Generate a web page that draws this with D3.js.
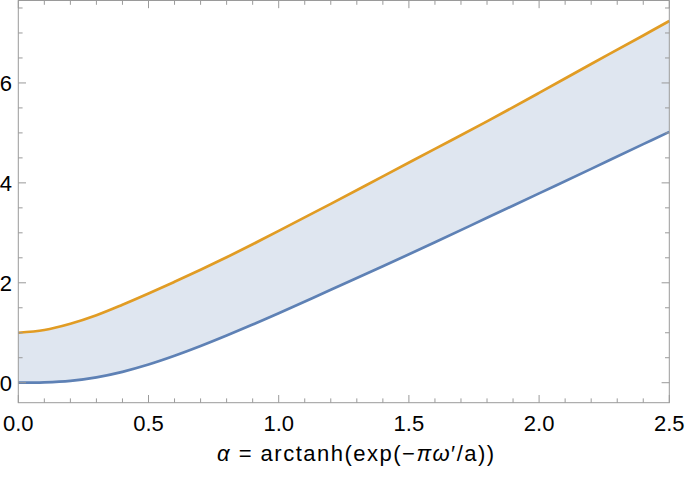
<!DOCTYPE html>
<html>
<head>
<meta charset="utf-8">
<script src="https://cdn.jsdelivr.net/npm/d3@7"></script>
<style>
  html, body { margin: 0; padding: 0; background: #fff; }
  svg { display: block; }
  text { font-family: "Liberation Sans", Arial, sans-serif; fill: #000; }
</style>
</head>
<body>
<svg id="chart" width="685" height="479"></svg>
<script>
// Data
const alphaValues = [0, 0.1, 0.2, 0.3, 0.4, 0.5, 0.6, 0.7, 0.8, 0.9, 1.0, 1.2, 1.4, 1.6, 1.8, 2.0, 2.2, 2.4, 2.5];
const lowerValues = [0, 0.008, 0.038, 0.108, 0.218, 0.363, 0.538, 0.733, 0.943, 1.163, 1.39, 1.86, 2.33, 2.81, 3.30, 3.79, 4.28, 4.775, 5.02];
const upperValues = [1.0, 1.055, 1.18, 1.35, 1.56, 1.785, 2.02, 2.26, 2.51, 2.77, 3.04, 3.58, 4.13, 4.68, 5.23, 5.80, 6.38, 6.95, 7.24];
const xTickLabels = ["0.0", "0.5", "1.0", "1.5", "2.0", "2.5"];
const yTickLabels = ["0", "2", "4", "6"];

(function () {
const svg = d3.select("#chart");
const pLeft = 18.3, pRight = 669.3, pTop = 0.5, pBottom = 402.7;

const x = d3.scaleLinear().domain([0, 2.5]).range([pLeft, pRight]);
const y = d3.scaleLinear().domain([-0.4, 7.65]).range([pBottom, pTop]);

const rows = alphaValues.map((a, i) => ({ a, lo: lowerValues[i], hi: upperValues[i] }));
const curve = d3.curveCatmullRom.alpha(0.5);

// fill between
svg.append("path")
  .datum(rows)
  .attr("fill", "#dfe6f0")
  .attr("d", d3.area().curve(curve)
    .x(d => x(d.a)).y0(d => y(d.lo)).y1(d => y(d.hi)));

const line = key => d3.line().curve(curve).x(d => x(d.a)).y(d => y(d[key]));

svg.append("path").datum(rows)
  .attr("fill", "none").attr("stroke", "#5e81b5").attr("stroke-width", 2.7)
  .attr("d", line("lo"));
svg.append("path").datum(rows)
  .attr("fill", "none").attr("stroke", "#e19c24").attr("stroke-width", 2.7)
  .attr("d", line("hi"));

// frame
const frameColor = "#9a9a9a";
svg.append("rect")
  .attr("x", pLeft).attr("y", pTop)
  .attr("width", pRight - pLeft).attr("height", pBottom - pTop)
  .attr("fill", "none").attr("stroke", frameColor).attr("stroke-width", 1);

// ticks
const xMajor = d3.range(0, 2.5001, 0.5);
const xMinor = d3.range(0, 2.5001, 0.1).filter(v => Math.abs(v / 0.5 - Math.round(v / 0.5)) > 1e-6);
const yMajor = d3.range(0, 7.65, 2);
const yMinor = d3.range(0, 7.65, 0.5).filter(v => Math.abs(v / 2 - Math.round(v / 2)) > 1e-6);

const tg = svg.append("g").attr("stroke", frameColor).attr("stroke-width", 1);
function xt(v, len) {
  const px = x(v);
  tg.append("line").attr("x1", px).attr("x2", px).attr("y1", pBottom).attr("y2", pBottom - len);
  tg.append("line").attr("x1", px).attr("x2", px).attr("y1", pTop).attr("y2", pTop + len);
}
function yt(v, len) {
  const py = y(v);
  tg.append("line").attr("x1", pLeft).attr("x2", pLeft + len).attr("y1", py).attr("y2", py);
  tg.append("line").attr("x1", pRight).attr("x2", pRight - len).attr("y1", py).attr("y2", py);
}
xMajor.forEach(v => xt(v, 7.7));
xMinor.forEach(v => xt(v, 4.3));
yMajor.forEach(v => yt(v, 7.7));
yMinor.forEach(v => yt(v, 4.3));

// tick labels
svg.append("g").selectAll("text").data(xMajor).join("text")
  .attr("x", d => x(d)).attr("y", 431)
  .attr("text-anchor", "middle").attr("font-size", 22)
  .text((d, i) => xTickLabels[i]);

svg.append("g").selectAll("text").data(yMajor).join("text")
  .attr("x", 12).attr("y", d => y(d) + 8)
  .attr("text-anchor", "end").attr("font-size", 22)
  .text((d, i) => yTickLabels[i]);

// axis title
const t = svg.append("text")
  .attr("x", 217).attr("y", 461)
  .attr("text-anchor", "start").attr("font-size", 22)
  .attr("letter-spacing", "1.5px");
t.append("tspan").attr("font-style", "italic").text("\u03B1");
t.append("tspan").text(" = arctanh(exp(\u2212");
t.append("tspan").attr("font-style", "italic").text("\u03C0\u03C9");
t.append("tspan").text("\u2032/a))");
})();
</script>
</body>
</html>
